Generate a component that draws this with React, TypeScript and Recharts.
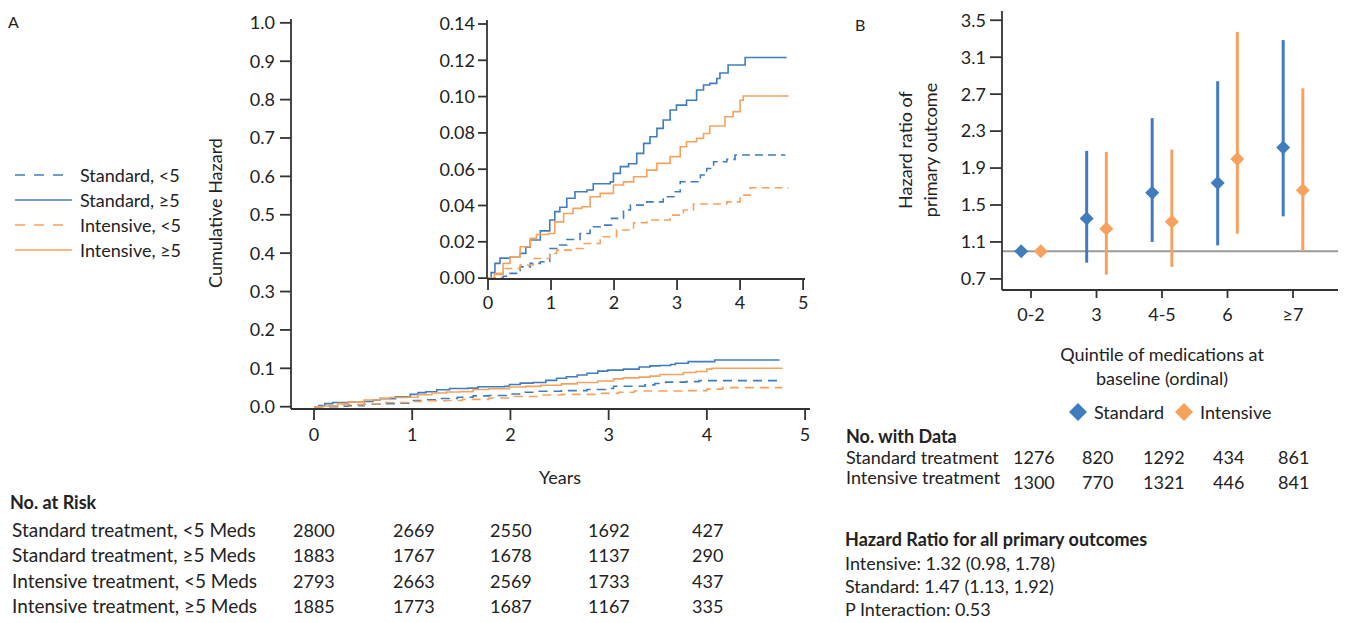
import React from "react";
import { LineChart, Line, XAxis, YAxis, ScatterChart, Scatter, ErrorBar, ReferenceLine } from "recharts";

const FONT = "Lato, 'Open Sans', sans-serif";
const BLUE = "#3f7dbf";
const ORANGE = "#f7a25c";
const INK = "#222";
const AXIS = "#333";

// cumulative hazard: [years, hazard]
const standardUnder5: [number, number][] = [
  [0, 0], [0.24, 0.001], [0.35, 0.0026], [0.51, 0.0062], [0.67, 0.0081], [0.83, 0.009], [0.98, 0.0163],
  [1.09, 0.0182], [1.25, 0.0213], [1.46, 0.0246], [1.62, 0.0283], [1.78, 0.0292], [1.96, 0.0329],
  [2.15, 0.0375], [2.26, 0.0402], [2.52, 0.042], [2.78, 0.0448], [2.97, 0.0476], [3.05, 0.0531],
  [3.37, 0.0568], [3.47, 0.0604], [3.58, 0.0641], [3.79, 0.0654], [3.92, 0.0678], [4.72, 0.0678],
];
const standardOver5: [number, number][] = [
  [0, 0], [0.05, 0.003], [0.11, 0.0081], [0.19, 0.011], [0.35, 0.0118], [0.51, 0.0136], [0.6, 0.017],
  [0.67, 0.021], [0.83, 0.026], [0.98, 0.032], [1.06, 0.0366], [1.14, 0.039], [1.25, 0.044], [1.38, 0.0476],
  [1.57, 0.0485], [1.67, 0.052], [1.94, 0.053], [1.99, 0.0577], [2.1, 0.0614], [2.23, 0.063], [2.36, 0.0687],
  [2.47, 0.0742], [2.57, 0.0779], [2.68, 0.0825], [2.78, 0.0871], [2.89, 0.0926], [2.99, 0.0953],
  [3.15, 0.098], [3.31, 0.1036], [3.42, 0.1064], [3.52, 0.1073], [3.63, 0.11], [3.68, 0.113],
  [3.81, 0.1174], [4.08, 0.1215], [4.74, 0.1215],
];
const intensiveUnder5: [number, number][] = [
  [0, 0], [0.14, 0.0026], [0.24, 0.0053], [0.51, 0.0072], [0.72, 0.0108], [0.98, 0.0136], [1.09, 0.0154],
  [1.35, 0.0163], [1.51, 0.0191], [1.78, 0.0228], [2.04, 0.0265], [2.31, 0.0305], [2.52, 0.032],
  [2.89, 0.0347], [3.1, 0.0375], [3.26, 0.0408], [3.79, 0.042], [4.0, 0.0457], [4.16, 0.0498], [4.77, 0.0498],
];
const intensiveOver5: [number, number][] = [
  [0, 0], [0.1, 0.002], [0.24, 0.0081], [0.35, 0.0118], [0.51, 0.0173], [0.67, 0.0219], [0.77, 0.024],
  [0.96, 0.0246], [1.06, 0.031], [1.2, 0.0356], [1.35, 0.0384], [1.49, 0.0393], [1.62, 0.0448],
  [1.78, 0.0467], [1.99, 0.0513], [2.15, 0.053], [2.31, 0.0558], [2.52, 0.0595], [2.68, 0.0632],
  [2.89, 0.0669], [3.05, 0.0724], [3.15, 0.0751], [3.31, 0.077], [3.42, 0.0797], [3.52, 0.0838],
  [3.76, 0.0889], [3.89, 0.0917], [4.0, 0.098], [4.05, 0.1003], [4.77, 0.1003],
];

const yearTicks = [0, 1, 2, 3, 4, 5];
const mainYTicks = [0, 0.1, 0.2, 0.3, 0.4, 0.5, 0.6, 0.7, 0.8, 0.9, 1.0];
const insetYTicks = [0, 0.02, 0.04, 0.06, 0.08, 0.1, 0.12, 0.14];

const legendA = ["Standard, <5", "Standard, ≥5", "Intensive, <5", "Intensive, ≥5"];

const riskLabels = [
  "Standard treatment, <5 Meds",
  "Standard treatment, ≥5 Meds",
  "Intensive treatment, <5 Meds",
  "Intensive treatment, ≥5 Meds",
];
const riskStdUnder5 = [2800, 2669, 2550, 1692, 427];
const riskStdOver5 = [1883, 1767, 1678, 1137, 290];
const riskIntUnder5 = [2793, 2663, 2569, 1733, 437];
const riskIntOver5 = [1885, 1773, 1687, 1167, 335];

// panel B
const quintiles = ["0-2", "3", "4-5", "6", "≥7"];
const stdHR = [1.0, 1.355, 1.632, 1.737, 2.122];
const stdLow = [1.0, 0.876, 1.1, 1.063, 1.377];
const stdHigh = [1.0, 2.086, 2.44, 2.84, 3.285];
const intHR = [1.0, 1.243, 1.319, 1.999, 1.661];
const intLow = [1.0, 0.747, 0.83, 1.19, 1.0];
const intHigh = [1.0, 2.075, 2.1, 3.374, 2.763];
const hrTicks = [0.7, 1.1, 1.5, 1.9, 2.3, 2.7, 3.1, 3.5];

const withDataStd = [1276, 820, 1292, 434, 861];
const withDataInt = [1300, 770, 1321, 446, 841];

const summaryLines = ["Intensive: 1.32 (0.98, 1.78)", "Standard: 1.47 (1.13, 1.92)", "P Interaction: 0.53"];

const toPts = (arr: [number, number][]) => arr.map(([t, v]) => ({ t, v }));

const series = [
  { key: "su5", data: toPts(standardUnder5), color: BLUE, dash: true },
  { key: "so5", data: toPts(standardOver5), color: BLUE, dash: false },
  { key: "iu5", data: toPts(intensiveUnder5), color: ORANGE, dash: true },
  { key: "io5", data: toPts(intensiveOver5), color: ORANGE, dash: false },
];

const hrPoints = (hr: number[], lo: number[], hi: number[], shift: number) =>
  hr.map((y, i) => ({ x: i + shift, y, err: [y - lo[i], hi[i] - y] }));

const tickStyle = { fill: INK, fontSize: 18, fontFamily: FONT };

function Txt({ x, y, children, bold = false, size = 18, center = false }: any) {
  return (
    <div
      style={{
        position: "absolute",
        left: x,
        top: y,
        transform: `translate(${center ? "-50%" : "0"}, -50%)`,
        fontFamily: FONT,
        fontSize: size,
        fontWeight: bold ? 700 : 400,
        color: INK,
        whiteSpace: "nowrap",
        lineHeight: "22px",
      }}
    >
      {children}
    </div>
  );
}

function VTxt({ x, y, children }: any) {
  return (
    <div
      style={{
        position: "absolute",
        left: x,
        top: y,
        transform: "translate(-50%, -50%) rotate(-90deg)",
        fontFamily: FONT,
        fontSize: 18,
        color: INK,
        whiteSpace: "nowrap",
        lineHeight: "22px",
      }}
    >
      {children}
    </div>
  );
}

const diamond = (color: string, r: number) => (p: any) =>
  <polygon points={`${p.cx},${p.cy - r} ${p.cx + r},${p.cy} ${p.cx},${p.cy + r} ${p.cx - r},${p.cy}`} fill={color} />;

function HazardLines({ dashArr }: { dashArr: string }) {
  return (
    <>
      {series.map((s) => (
        <Line
          key={s.key}
          data={s.data}
          dataKey="v"
          type="stepAfter"
          stroke={s.color}
          strokeWidth={1.6}
          strokeDasharray={s.dash ? dashArr : undefined}
          dot={false}
          isAnimationActive={false}
        />
      ))}
    </>
  );
}

export default function App() {
  const riskRows = [riskStdUnder5, riskStdOver5, riskIntUnder5, riskIntOver5];
  const riskCols = [293, 393, 490, 588, 692];
  const rowY = [530, 555, 581, 606];
  const dataCols = [1013, 1082, 1143, 1213, 1278];

  return (
    <div style={{ position: "absolute", left: 0, top: 0, width: 1347, height: 623, background: "#fff", overflow: "hidden" }}>
      <Txt x={8} y={22} size={16}>A</Txt>
      <Txt x={855} y={25} size={16}>B</Txt>

      {/* main cumulative hazard */}
      <div style={{ position: "absolute", left: 0, top: 0 }}>
        <LineChart width={830} height={460} margin={{ top: 19, right: 20, bottom: 21, left: 231 }}>
          <XAxis
            dataKey="t"
            type="number"
            domain={[-0.234, 5.05]}
            ticks={yearTicks}
            allowDataOverflow
            height={30}
            tickSize={11}
            tickMargin={8}
            tick={tickStyle}
            axisLine={{ stroke: AXIS, strokeWidth: 1.8 }}
            tickLine={{ stroke: AXIS, strokeWidth: 1.8 }}
          />
          <YAxis
            type="number"
            domain={[-0.006, 1.01]}
            ticks={mainYTicks}
            allowDataOverflow
            width={60}
            tickSize={11}
            tickMargin={5}
            tick={tickStyle}
            tickFormatter={(v: number) => v.toFixed(1)}
            axisLine={{ stroke: AXIS, strokeWidth: 1.8 }}
            tickLine={{ stroke: AXIS, strokeWidth: 1.8 }}
          />
          {HazardLines({ dashArr: "9 6" })}
        </LineChart>
      </div>

      {/* inset */}
      <div style={{ position: "absolute", left: 400, top: 0 }}>
        <LineChart width={420} height={330} margin={{ top: 20, right: 15, bottom: 21, left: 27 }}>
          <XAxis
            dataKey="t"
            type="number"
            domain={[-0.016, 5.03]}
            ticks={yearTicks}
            allowDataOverflow
            height={30}
            tickSize={11}
            tickMargin={6}
            tick={tickStyle}
            axisLine={{ stroke: AXIS, strokeWidth: 1.8 }}
            tickLine={{ stroke: AXIS, strokeWidth: 1.8 }}
          />
          <YAxis
            type="number"
            domain={[-0.0005, 0.1422]}
            ticks={insetYTicks}
            allowDataOverflow
            width={60}
            tickSize={9}
            tickMargin={3}
            tick={tickStyle}
            tickFormatter={(v: number) => v.toFixed(2)}
            axisLine={{ stroke: AXIS, strokeWidth: 1.8 }}
            tickLine={{ stroke: AXIS, strokeWidth: 1.8 }}
          />
          {HazardLines({ dashArr: "8 5" })}
        </LineChart>
      </div>

      <VTxt x={215} y={213}>Cumulative Hazard</VTxt>
      <Txt x={560} y={477} center>Years</Txt>

      {/* legend A */}
      <svg style={{ position: "absolute", left: 0, top: 0 }} width={80} height={270}>
        {series.map((s, i) => (
          <line
            key={s.key}
            x1={15}
            x2={72}
            y1={175 + i * 25}
            y2={175 + i * 25}
            stroke={s.color}
            strokeWidth={1.6}
            strokeDasharray={s.dash ? "10 9" : undefined}
          />
        ))}
      </svg>
      {legendA.map((l, i) => (
        <Txt key={l} x={80} y={175 + i * 25}>{l}</Txt>
      ))}

      {/* No. at Risk */}
      <Txt x={10} y={502} bold>No. at Risk</Txt>
      {riskLabels.map((l, r) => (
        <React.Fragment key={l}>
          <Txt x={12} y={rowY[r]} size={19}>{l}</Txt>
          {riskRows[r].map((n, c) => (
            <Txt key={c} x={riskCols[c]} y={rowY[r]}>{n}</Txt>
          ))}
        </React.Fragment>
      ))}

      {/* panel B */}
      <div style={{ position: "absolute", left: 840, top: 0 }}>
        <ScatterChart width={507} height={340} margin={{ top: 11, right: 9, bottom: 20, left: 102 }}>
          <XAxis
            dataKey="x"
            type="number"
            domain={[-0.443, 4.687]}
            ticks={[0, 1, 2, 3, 4]}
            allowDataOverflow
            height={30}
            tickSize={8}
            tickMargin={10}
            tick={tickStyle}
            tickFormatter={(v: number) => quintiles[v]}
            axisLine={{ stroke: AXIS, strokeWidth: 1.8 }}
            tickLine={{ stroke: AXIS, strokeWidth: 1.8 }}
          />
          <YAxis
            dataKey="y"
            type="number"
            domain={[0.58, 3.6]}
            ticks={hrTicks}
            allowDataOverflow
            width={60}
            tickSize={12}
            tickMargin={4}
            tick={tickStyle}
            tickFormatter={(v: number) => v.toFixed(1)}
            axisLine={{ stroke: AXIS, strokeWidth: 1.8 }}
            tickLine={{ stroke: AXIS, strokeWidth: 1.8 }}
          />
          <ReferenceLine y={1} stroke="#9a9a9a" strokeWidth={2} />
          <Scatter data={hrPoints(stdHR, stdLow, stdHigh, -0.15)} shape={diamond(BLUE, 7)} isAnimationActive={false}>
            <ErrorBar dataKey="err" direction="y" width={0} stroke={BLUE} strokeWidth={3} />
          </Scatter>
          <Scatter data={hrPoints(intHR, intLow, intHigh, 0.15)} shape={diamond(ORANGE, 7)} isAnimationActive={false}>
            <ErrorBar dataKey="err" direction="y" width={0} stroke={ORANGE} strokeWidth={3} />
          </Scatter>
        </ScatterChart>
      </div>

      <VTxt x={905} y={150}>Hazard ratio of</VTxt>
      <VTxt x={930} y={150}>primary outcome</VTxt>
      <Txt x={1162} y={354} center>Quintile of medications at</Txt>
      <Txt x={1162} y={378} center>baseline (ordinal)</Txt>

      {/* legend B */}
      <svg style={{ position: "absolute", left: 1060, top: 400 }} width={140} height={26}>
        <polygon points="18,3 27,12 18,21 9,12" fill={BLUE} />
        <polygon points="124,3 133,12 124,21 115,12" fill={ORANGE} />
      </svg>
      <Txt x={1094} y={412}>Standard</Txt>
      <Txt x={1200} y={412}>Intensive</Txt>

      {/* No. with Data */}
      <Txt x={846} y={436} bold>No. with Data</Txt>
      <Txt x={846} y={457}>Standard treatment</Txt>
      <Txt x={846} y={477}>Intensive treatment</Txt>
      {withDataStd.map((n, c) => (
        <Txt key={"s" + c} x={dataCols[c]} y={457}>{n}</Txt>
      ))}
      {withDataInt.map((n, c) => (
        <Txt key={"i" + c} x={dataCols[c]} y={482}>{n}</Txt>
      ))}

      <Txt x={845} y={539} bold>Hazard Ratio for all primary outcomes</Txt>
      {summaryLines.map((l, i) => (
        <Txt key={l} x={845} y={563 + i * 23}>{l}</Txt>
      ))}
    </div>
  );
}
